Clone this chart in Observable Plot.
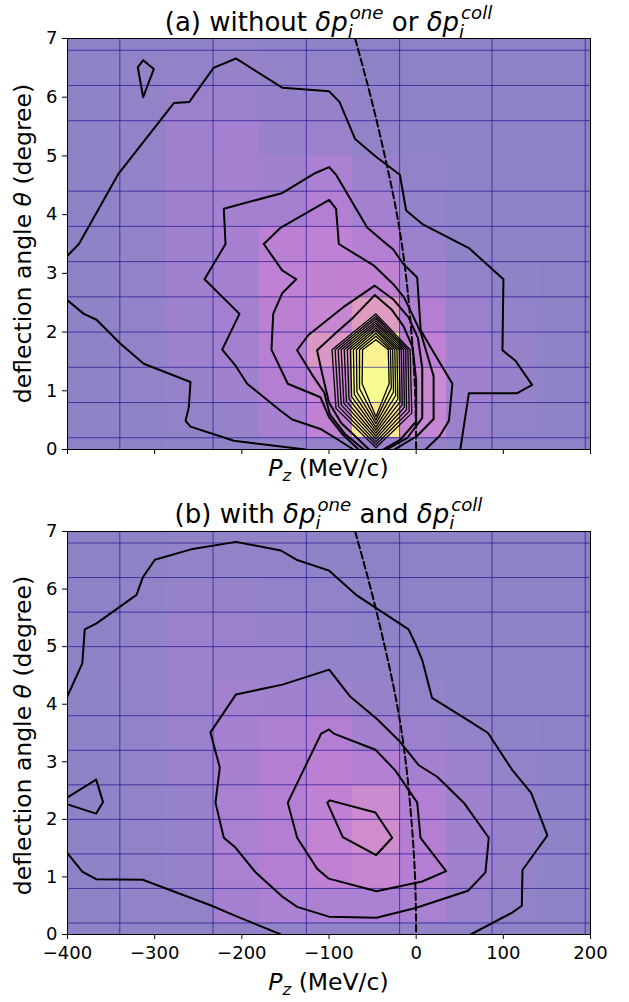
<!DOCTYPE html>
<html><head><meta charset="utf-8">
<script src="https://cdn.jsdelivr.net/npm/d3@7"></script>
<script src="https://cdn.jsdelivr.net/npm/@observablehq/plot@0.6"></script>
<style>
body{margin:0;background:#fff;font-family:"DejaVu Sans",sans-serif;}
#wrap{position:relative;width:629px;height:1002px;overflow:hidden;}
#wrap svg{display:block;}
</style></head><body><div id="wrap"></div><script>
// ---------- data ----------
const xTicks = [-400,-300,-200,-100,0,100,200];
const yTicks = [0,1,2,3,4,5,6,7];
const gridX = [-340,-233,-126,-19,87,194];
const gridYA = [0.2,0.8,1.4,2.0,2.6,3.2,3.8,4.4,5.6,6.2,6.8];
const gridYB = [0.2,0.8,1.4,2.0,2.6,3.2,3.8,5.0,5.6,6.2,6.8];
const heatXEdges = [-446.5,-393.5,-340,-286.5,-233,-179.5,-126,-72.5,-19,34.5,87,140.5,194,247.5];
const heatYEdges = [-0.4,0.2,0.8,1.4,2.0,2.6,3.2,3.8,4.4,5.0,5.6,6.2,6.8,7.4];
// rows bottom -> top, columns left -> right (plasma value 0..1)
const heatA = [
 [0.02,0.02,0.02,0.03,0.03,0.04,0.06,0.10,0.06,0.03,0.02,0.02,0.02],
 [0.02,0.03,0.03,0.04,0.06,0.14,0.26,0.90,0.30,0.08,0.04,0.03,0.02],
 [0.02,0.03,0.04,0.06,0.10,0.20,0.30,1.00,0.32,0.10,0.06,0.03,0.02],
 [0.02,0.03,0.05,0.08,0.12,0.22,0.42,0.95,0.25,0.10,0.06,0.03,0.02],
 [0.02,0.03,0.05,0.09,0.13,0.24,0.30,0.45,0.20,0.08,0.04,0.03,0.02],
 [0.02,0.03,0.05,0.10,0.14,0.25,0.27,0.27,0.12,0.05,0.03,0.02,0.02],
 [0.02,0.03,0.05,0.10,0.14,0.24,0.25,0.20,0.08,0.03,0.02,0.02,0.02],
 [0.02,0.03,0.05,0.10,0.12,0.13,0.20,0.12,0.05,0.03,0.02,0.02,0.02],
 [0.02,0.03,0.05,0.10,0.12,0.10,0.16,0.08,0.04,0.02,0.02,0.02,0.02],
 [0.02,0.03,0.05,0.10,0.13,0.06,0.08,0.05,0.03,0.02,0.02,0.02,0.02],
 [0.02,0.03,0.05,0.08,0.08,0.06,0.06,0.04,0.02,0.02,0.02,0.02,0.02],
 [0.02,0.03,0.04,0.05,0.06,0.05,0.04,0.03,0.02,0.02,0.02,0.02,0.02],
 [0.02,0.02,0.03,0.03,0.04,0.03,0.03,0.02,0.02,0.02,0.02,0.02,0.02]
];
const heatB = [
 [0.02,0.02,0.03,0.03,0.05,0.05,0.05,0.05,0.05,0.04,0.02,0.02,0.02],
 [0.02,0.03,0.04,0.05,0.13,0.16,0.16,0.16,0.15,0.08,0.04,0.03,0.02],
 [0.02,0.03,0.04,0.06,0.15,0.20,0.26,0.30,0.20,0.10,0.06,0.03,0.02],
 [0.02,0.03,0.04,0.06,0.15,0.20,0.28,0.35,0.20,0.10,0.06,0.03,0.02],
 [0.02,0.03,0.04,0.06,0.15,0.20,0.26,0.33,0.18,0.10,0.06,0.03,0.02],
 [0.02,0.03,0.04,0.07,0.14,0.20,0.24,0.20,0.13,0.08,0.04,0.03,0.02],
 [0.02,0.03,0.04,0.07,0.13,0.17,0.20,0.12,0.08,0.05,0.03,0.02,0.02],
 [0.02,0.03,0.04,0.08,0.11,0.10,0.10,0.06,0.04,0.03,0.02,0.02,0.02],
 [0.02,0.03,0.05,0.08,0.08,0.07,0.05,0.04,0.03,0.02,0.02,0.02,0.02],
 [0.02,0.03,0.04,0.08,0.08,0.06,0.05,0.03,0.02,0.02,0.02,0.02,0.02],
 [0.02,0.03,0.04,0.06,0.06,0.05,0.04,0.03,0.02,0.02,0.02,0.02,0.02],
 [0.02,0.02,0.03,0.04,0.04,0.04,0.03,0.02,0.02,0.02,0.02,0.02,0.02],
 [0.02,0.02,0.03,0.04,0.04,0.04,0.03,0.02,0.02,0.02,0.02,0.02,0.02]
];
// contour polylines [Pz, theta]
const contoursA = [
 [[-400,3.30],[-386.9,3.50],[-341.4,4.70],[-278,5.90],[-260.2,5.92],[-232.5,6.50],[-206.8,6.66],[-153.3,6.16],[-99.8,6.10],[-88,5.92],[-70.1,5.29],[-46.4,4.99],[-18.7,4.68],[-11.5,4.07],[7.1,3.84],[60.5,3.43],[100.1,2.90],[99,1.69],[114,1.51],[133,1.10],[116,0.96],[60.5,0.96],[50.6,0]],
 [[-313.2,6.63],[-301,6.48],[-313.2,6.0],[-319.4,6.51],[-313.2,6.63]],
 [[-400,2.54],[-381.3,2.31],[-366.7,2.21],[-339.2,1.80],[-312.5,1.46],[-258.9,1.15],[-260.8,0.72],[-264.6,0.49],[-258.9,0.39],[-209.2,0.15],[-127,0]],
 [[-72,0],[-90,0.17],[-109.8,0.35],[-142.2,0.51],[-155.6,0.66],[-193.9,1.12],[-207.3,1.43],[-222.5,1.70],[-202.7,2.31],[-242.8,2.90],[-218.7,3.50],[-220.7,4.10],[-153.3,4.37],[-115.6,4.71],[-99.8,4.81],[-91.9,4.68],[-72.1,4.18],[-56.2,3.78],[-36.4,3.53],[-26.5,3.41],[-14.7,3.16],[1.2,2.93],[5.2,2.03],[18.6,1.69],[41.6,1.12],[37.6,0.49],[26.9,0.23],[10.7,0]],
 [[-66,0],[-84,0.25],[-100,0.55],[-109.8,0.89],[-147.3,1.12],[-166,1.70],[-164,2.31],[-153.7,2.66],[-137.6,2.90],[-153.7,3.05],[-174.8,3.50],[-155.3,3.78],[-99.8,4.25],[-91.9,4.10],[-88.7,3.50],[-48.3,3.13],[-26.5,2.82],[-14,2.59],[-4.7,2.31],[5,2.0],[20,1.25],[20,0.52],[1,0.23],[-25,0]],
 [[-60,0],[-82,0.27],[-99,0.6],[-105.5,0.97],[-119.6,1.28],[-136.6,1.69],[-123.6,1.95],[-84,2.42],[-47.5,2.79],[-26.5,2.56],[-8.7,2.25],[2,1.9],[7,1.39],[7,0.54],[-10,0.2],[-34,0]],
 [[-54,0],[-86,0.45],[-100,0.8],[-107.7,1.28],[-113.7,1.69],[-91.9,1.99],[-72.1,2.25],[-47.5,2.63],[-28.5,2.39],[-14.6,2.1],[-4,1.74],[0,1.17],[0,0.48],[-18,0.17],[-38,0]]
];
const nestedA = [
 [[-46.2,2.31],[-7,1.7],[-5,0.62],[-46.2,0.03],[-92,0.70],[-96.5,1.7],[-46.2,2.31]],
 [[-46.2,2.27],[-9.5,1.7],[-8,0.65],[-46.2,0.08],[-89,0.73],[-93,1.7],[-46.2,2.27]],
 [[-46.2,2.23],[-12,1.7],[-11,0.68],[-46.2,0.13],[-86,0.76],[-89.5,1.7],[-46.2,2.23]],
 [[-46.2,2.19],[-14.5,1.7],[-13.5,0.72],[-46.2,0.18],[-83,0.79],[-86,1.7],[-46.2,2.19]],
 [[-46.2,2.15],[-17,1.7],[-16,0.76],[-46.2,0.23],[-80,0.82],[-82.5,1.7],[-46.2,2.15]],
 [[-46.2,2.11],[-19.5,1.7],[-18.5,0.81],[-46.2,0.28],[-77,0.86],[-79,1.7],[-46.2,2.11]],
 [[-46.2,2.07],[-22,1.7],[-21,0.86],[-46.2,0.33],[-74,0.90],[-75.5,1.7],[-46.2,2.07]],
 [[-46.2,2.03],[-24.5,1.7],[-23.5,0.92],[-46.2,0.38],[-71,0.94],[-72,1.7],[-46.2,2.03]],
 [[-46.2,1.98],[-27,1.7],[-26,0.98],[-46.2,0.44],[-68,0.98],[-68.5,1.7],[-46.2,1.98]],
 [[-46.2,1.93],[-29.5,1.7],[-28.5,1.05],[-46.2,0.50],[-65,1.04],[-65,1.7],[-46.2,1.93]],
 [[-46.2,1.87],[-32,1.7],[-31,1.12],[-46.2,0.56],[-62,1.12],[-61.5,1.7],[-46.2,1.87]]
];
const contoursB = [
 [[-400,4.14],[-383,4.71],[-380.2,5.30],[-367.1,5.40],[-320.8,5.90],[-313.7,6.20],[-299.8,6.51],[-258.2,6.69],[-206.7,6.82],[-155.2,6.67],[-137.4,6.51],[-99.8,6.32],[-68.1,5.89],[-8.7,5.30],[-0.8,5.05],[7.1,4.76],[18.2,4.11],[60.6,3.71],[82.4,3.50],[110.1,2.86],[131.9,2.46],[150.5,1.72],[122,1.12],[121.2,0.50],[110.1,0.38],[62.6,0]],
 [[-400,1.41],[-383,1.09],[-367.1,0.96],[-313.7,0.95],[-234.5,0.50],[-206.7,0.32],[-155.2,0]],
 [[-400,2.38],[-367.1,2.69],[-359.2,2.30],[-367.1,2.10],[-400,2.26]],
 [[-206.7,4.17],[-153.3,4.34],[-99.8,4.60],[-76.1,4.14],[-44.6,3.74],[-19.9,3.37],[3,2.94],[24.1,2.74],[54.6,2.29],[83.3,1.68],[79.5,1.08],[59.5,0.76],[-0.8,0.46],[-45.5,0.29],[-100.2,0.31],[-136.5,0.48],[-153.7,0.66],[-184.3,1.08],[-207.3,1.51],[-220.7,1.68],[-230.2,2.29],[-225.3,2.90],[-236,3.51],[-206.7,4.17]],
 [[-100.2,3.56],[-109,3.49],[-147.3,2.29],[-136.5,1.68],[-113.5,1.14],[-100.2,0.97],[-45.5,0.75],[6.9,0.92],[34.4,1.10],[5,1.68],[1.2,2.29],[-24,2.85],[-46.7,3.21],[-94.5,3.49],[-100.2,3.56]],
 [[-102,2.29],[-99,2.33],[-46.7,2.12],[-27.5,1.68],[-45.9,1.38],[-84.2,1.69],[-102,2.29]]
];
const dashedPts = [[-70,7],[-52,6],[-36,5],[-22,4],[-12,3],[-5.5,2],[-1.3,1],[0,0]];

// ---------- helpers ----------
function cellsFrom(mat){
  const out=[];
  for(let r=0;r<mat.length;r++) for(let c=0;c<mat[r].length;c++)
    out.push({x1:heatXEdges[c],x2:heatXEdges[c+1],y1:heatYEdges[r],y2:heatYEdges[r+1],v:mat[r][c]});
  return out;
}
function linesFrom(list){
  const out=[];
  list.forEach((pts,i)=>pts.forEach(([x,y])=>out.push({x,y,id:i})));
  return out;
}
const fmt = d => d < 0 ? "\u2212" + Math.abs(d) : String(d);
const TICK_FS = 18;

function panel({heat, contours, nested, gridY, height, marginTop, marginBottom, labels}) {
  return Plot.plot({
    width: 629, height, marginLeft: 67, marginRight: 39, marginTop, marginBottom,
    style: {fontFamily: '"DejaVu Sans", sans-serif', fontSize: TICK_FS + "px", color: "#000", background: "transparent", overflow: "visible"},
    x: {domain: [-400, 200]},
    y: {domain: [0, 7]},
    color: {type: "linear", scheme: "plasma", domain: [0, 1]},
    marks: [
      Plot.rect(cellsFrom(heat), {x1:"x1", x2:"x2", y1:"y1", y2:"y2", fill:"v", fillOpacity:0.5, clip:true, shapeRendering:"crispEdges"}),
      Plot.ruleX(gridX, {stroke:"#1b0f8f", strokeWidth:0.8, strokeOpacity:0.85}),
      Plot.ruleY(gridY, {stroke:"#1b0f8f", strokeWidth:0.8, strokeOpacity:0.85}),
      Plot.line(linesFrom(contours), {x:"x", y:"y", z:"id", stroke:"#000", strokeWidth:2, strokeLinejoin:"round", clip:true}),
      Plot.line(linesFrom(nested), {x:"x", y:"y", z:"id", stroke:"#000", strokeWidth:1.3, strokeLinejoin:"round", clip:true}),
      Plot.line(dashedPts, {x:d=>d[0], y:d=>d[1], stroke:"#000", strokeWidth:2, strokeDasharray:"7,3.5", curve:"natural", clip:true}),
      Plot.axisX({ticks:xTicks, tickSize:5, tickPadding:7, tickFormat: labels ? fmt : () => "", label:null, fontSize:TICK_FS}),
      Plot.axisY({ticks:yTicks, tickSize:5, tickPadding:5, tickFormat: d => String(d), label:null, fontSize:TICK_FS}),
      Plot.frame({stroke:"#000", strokeWidth:1})
    ]
  });
}

function mathText(svg, x, y, size, parts, rotate) {
  const t = d3.select(svg).append("text")
    .attr("text-anchor","middle")
    .attr("font-family",'"DejaVu Sans", sans-serif')
    .attr("font-size", size)
    .attr("fill","#000");
  if (rotate) t.attr("transform", `translate(${x},${y}) rotate(-90)`);
  else t.attr("x", x).attr("y", y);
  const s = size * 0.7;
  parts.forEach(p => {
    if (p.t !== undefined) {
      const ts = t.append("tspan").text(p.t);
      if (p.it) ts.attr("font-style","italic");
      if (p.dy) ts.attr("dy", p.dy);
    } else if (p.sub !== undefined && p.sup !== undefined) {
      t.append("tspan").attr("font-size", s).attr("font-style","italic").attr("dy", size*0.25).text(p.sub);
      t.append("tspan").attr("font-size", s).attr("font-style","italic").attr("dx", -s*0.17).attr("dy", -size*0.70).text(p.sup);
    } else if (p.sub !== undefined) {
      t.append("tspan").attr("font-size", s).attr("font-style","italic").attr("dy", size*0.22).text(p.sub);
    }
  });
}

const wrap = document.getElementById("wrap");
const svgA = panel({heat:heatA, contours:contoursA, nested:nestedA, gridY:gridYA, height:494, marginTop:38, marginBottom:45, labels:false});
const svgB = panel({heat:heatB, contours:contoursB, nested:[], gridY:gridYB, height:508, marginTop:37, marginBottom:68, labels:true});
wrap.appendChild(svgA);
wrap.appendChild(svgB);

const cx = (67 + 590) / 2;
const TFS = 26, LFS = 23.5;
// panel a
mathText(svgA, cx, 31, TFS, [
  {t:"(a) without "}, {t:"\u03b4p", it:true}, {sub:"i", sup:"one"},
  {t:" or ", dy: TFS*0.45}, {t:"\u03b4p", it:true}, {sub:"i", sup:"coll"}
]);
mathText(svgA, cx, 476, LFS, [{t:"P", it:true}, {sub:"z"}, {t:" (MeV/c)", dy:-LFS*0.22}]);
mathText(svgA, 31, 243.5, LFS, [{t:"deflection angle "}, {t:"\u03b8", it:true}, {t:" (degree)"}], true);
// panel b
mathText(svgB, cx, 28.5, TFS, [
  {t:"(b) with "}, {t:"\u03b4p", it:true}, {sub:"i", sup:"one"},
  {t:" and ", dy: TFS*0.45}, {t:"\u03b4p", it:true}, {sub:"i", sup:"coll"}
]);
mathText(svgB, cx, 496, LFS, [{t:"P", it:true}, {sub:"z"}, {t:" (MeV/c)", dy:-LFS*0.22}]);
mathText(svgB, 31, 241.5, LFS, [{t:"deflection angle "}, {t:"\u03b8", it:true}, {t:" (degree)"}], true);
</script></body></html>
